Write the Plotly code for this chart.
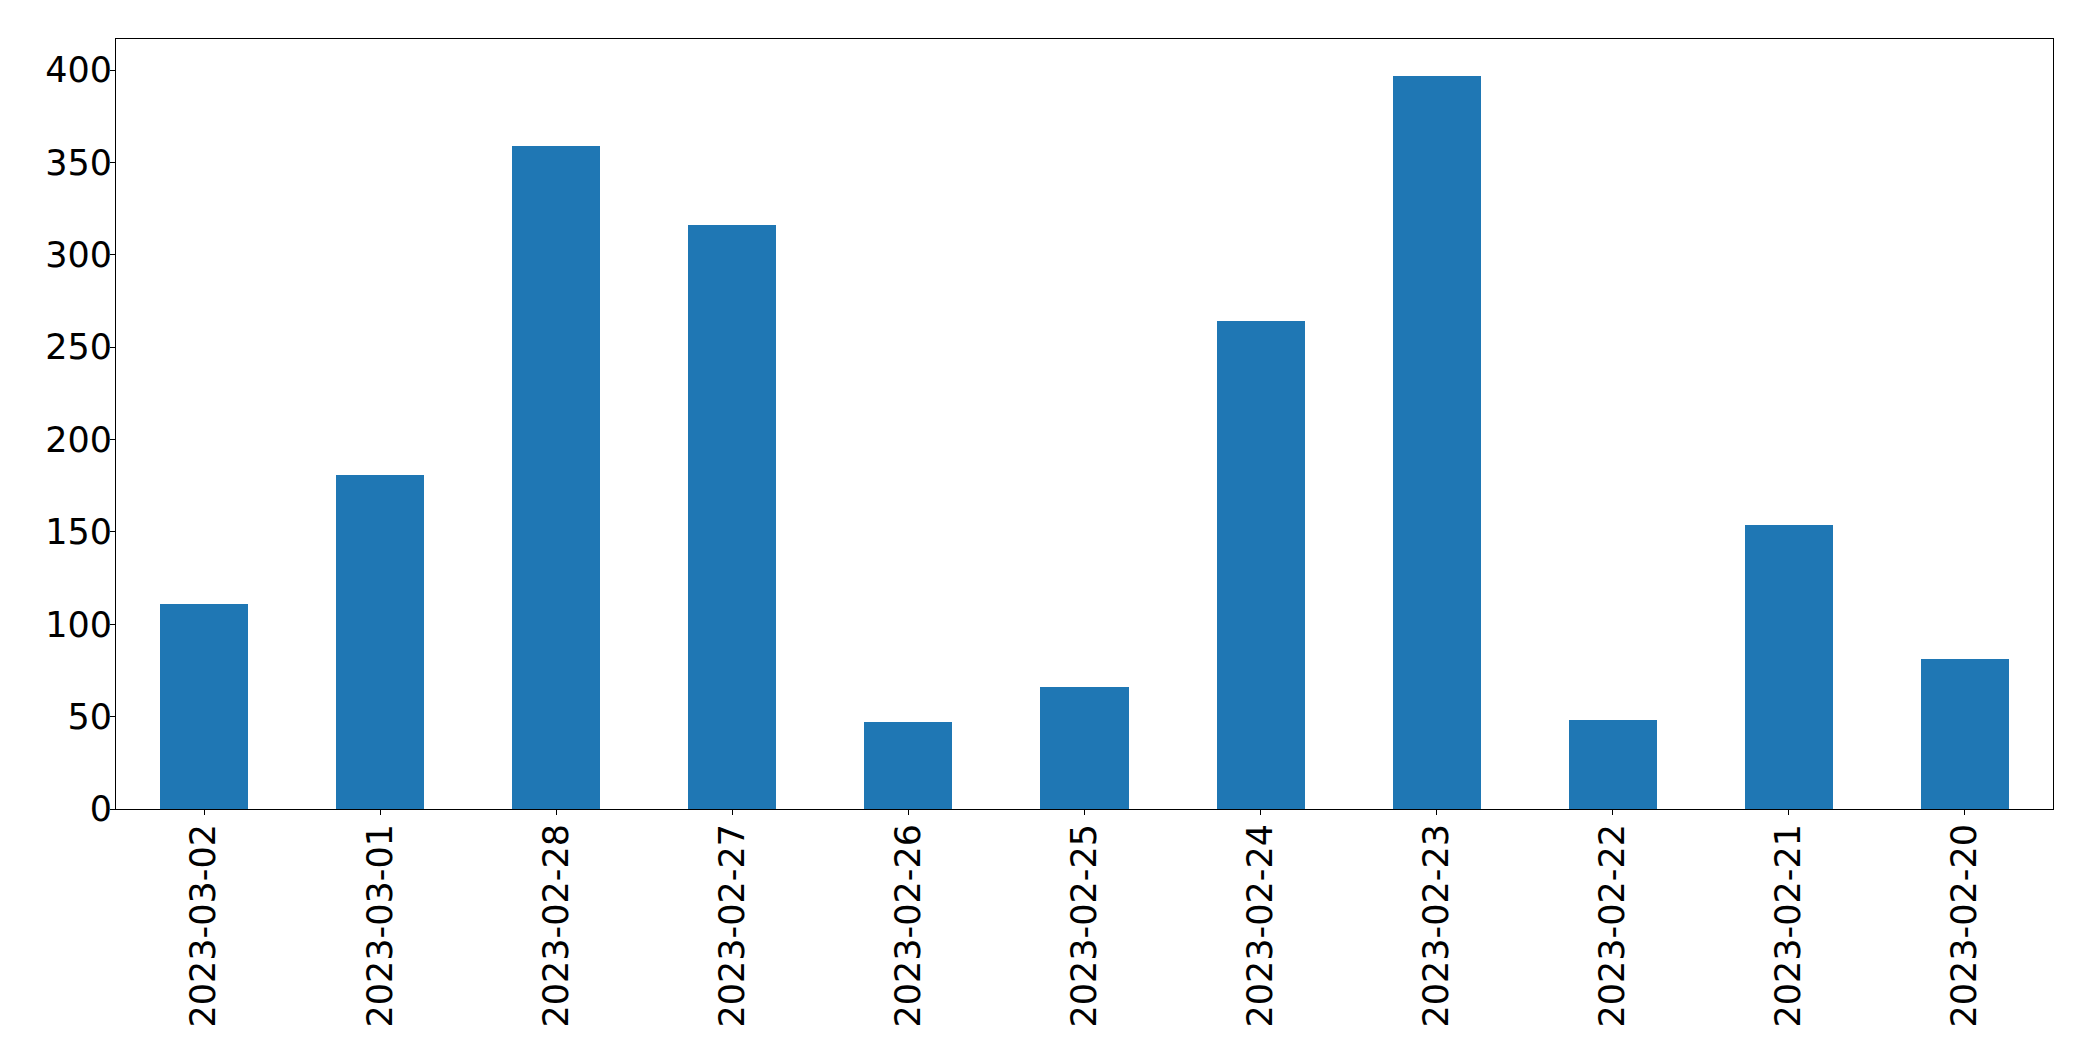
import plotly.graph_objects as go

dates = ["2023-03-02", "2023-03-01", "2023-02-28", "2023-02-27", "2023-02-26",
         "2023-02-25", "2023-02-24", "2023-02-23", "2023-02-22", "2023-02-21",
         "2023-02-20"]
counts = [111, 181, 359, 316, 47, 66, 264, 397, 48, 154, 81]
y_ticks = [0, 50, 100, 150, 200, 250, 300, 350, 400]

fig = go.Figure()
fig.add_trace(go.Bar(
    x=list(range(len(dates))),
    y=counts,
    width=0.5,
    marker=dict(color="#1f77b4", line=dict(width=0)),
))

# page body adds an 8px offset, so the figure is 8px smaller and margins shifted
fig.update_layout(
    width=2085, height=1053,
    margin=dict(l=108, r=40, t=31, b=252, pad=0),
    paper_bgcolor="white", plot_bgcolor="white",
    font=dict(family="DejaVu Sans", size=35, color="black"),
    showlegend=False,
    bargap=0,
)
fig.update_xaxes(
    range=[-0.5, len(dates) - 0.5],
    tickmode="array", tickvals=list(range(len(dates))), ticktext=dates,
    tickangle=-90,
    showline=True, linecolor="black", linewidth=1.1, mirror=True,
    ticks="outside", ticklen=5, tickwidth=1.1, tickcolor="black",
    ticklabelstandoff=-5,
    showgrid=False, zeroline=False,
)
fig.update_yaxes(
    range=[0, max(counts) * 1.05],
    tickmode="array", tickvals=y_ticks,
    showline=True, linecolor="black", linewidth=1.1, mirror=True,
    ticks="outside", ticklen=5, tickwidth=1.1, tickcolor="black",
    ticklabelstandoff=-9,
    showgrid=False, zeroline=False,
)

fig.write_html("out.html")
